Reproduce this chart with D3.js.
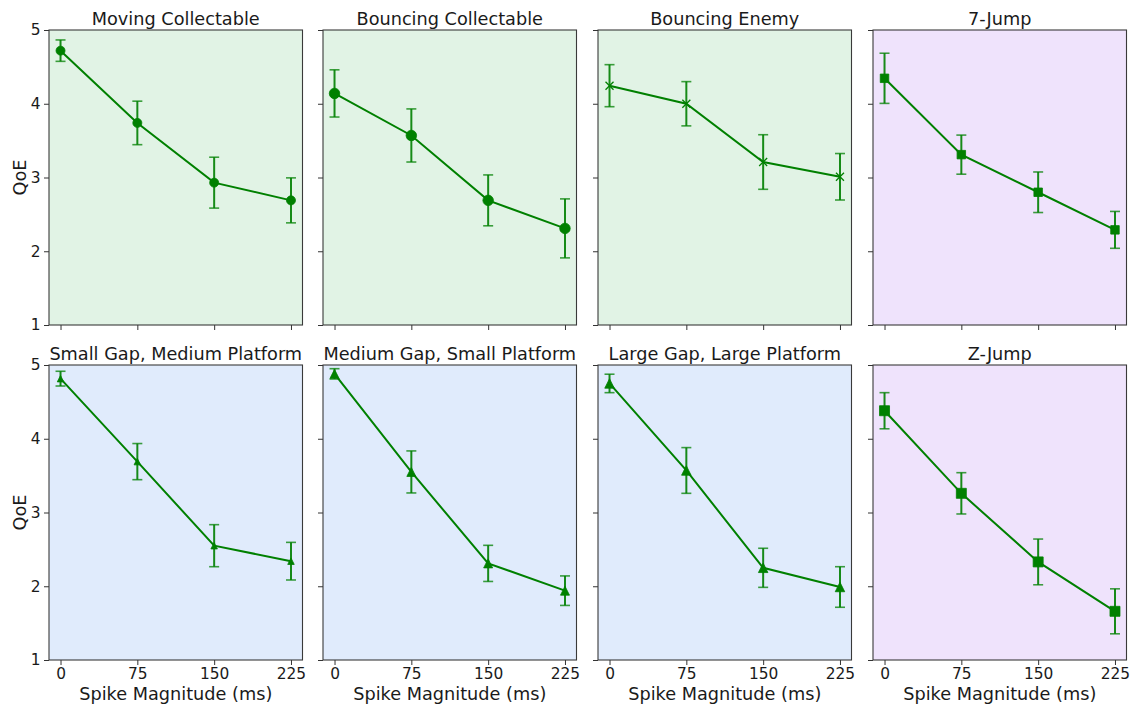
<!DOCTYPE html>
<html>
<head>
<meta charset="utf-8">
<script src="https://cdn.jsdelivr.net/npm/d3@7"></script>
<style>
  body { margin: 0; background: #fff; }
  svg text { font-family: "DejaVu Sans", sans-serif; fill: #1a1a1a; }
</style>
</head>
<body>
<svg id="chart" width="1132" height="707"></svg>
<script>
// Spike magnitudes (ms) shared by every panel
const spikeMs = [0, 75, 150, 225];
const xTickLabels = ["0", "75", "150", "225"];
const yTicks = [1, 2, 3, 4, 5];

// Panel titles, row by row
const titles = [
  "Moving Collectable", "Bouncing Collectable", "Bouncing Enemy", "7-Jump",
  "Small Gap, Medium Platform", "Medium Gap, Small Platform", "Large Gap, Large Platform", "Z-Jump"
];

// Mean QoE per spike magnitude, and error half-widths
const movingCollectable = [4.72, 3.74, 2.93, 2.69];
const movingCollectableErr = [0.145, 0.295, 0.345, 0.305];
const bouncingCollectable = [4.14, 3.57, 2.69, 2.31];
const bouncingCollectableErr = [0.32, 0.36, 0.345, 0.40];
const bouncingEnemy = [4.245, 4.00, 3.21, 3.01];
const bouncingEnemyErr = [0.285, 0.30, 0.37, 0.315];
const sevenJump = [4.345, 3.31, 2.80, 2.29];
const sevenJumpErr = [0.34, 0.265, 0.275, 0.25];
const smallGapMedPlat = [4.815, 3.69, 2.55, 2.34];
const smallGapMedPlatErr = [0.10, 0.245, 0.285, 0.255];
const medGapSmallPlat = [4.88, 3.55, 2.31, 1.94];
const medGapSmallPlatErr = [0.07, 0.285, 0.245, 0.20];
const largeGapLargePlat = [4.75, 3.57, 2.25, 1.99];
const largeGapLargePlatErr = [0.125, 0.31, 0.265, 0.275];
const zJump = [4.38, 3.26, 2.33, 1.66];
const zJumpErr = [0.245, 0.28, 0.31, 0.305];

const seriesMeans = [movingCollectable, bouncingCollectable, bouncingEnemy, sevenJump,
  smallGapMedPlat, medGapSmallPlat, largeGapLargePlat, zJump];
const seriesErrs = [movingCollectableErr, bouncingCollectableErr, bouncingEnemyErr, sevenJumpErr,
  smallGapMedPlatErr, medGapSmallPlatErr, largeGapLargePlatErr, zJumpErr];

// Marker shape and size (px) per panel
const markerShapes = ["circle", "circle", "x", "square", "triangle", "triangle", "triangle", "square"];
const markerSizes = [9, 10.5, 8, 8.5, 6.5, 9, 9.5, 10];

// Panel background per panel
const GREEN_BG = "#e1f3e5", BLUE_BG = "#e0ebfc", PURPLE_BG = "#efe3fc";
const backgrounds = [GREEN_BG, GREEN_BG, GREEN_BG, PURPLE_BG, BLUE_BG, BLUE_BG, BLUE_BG, PURPLE_BG];

const LINE_COLOR = "#008000";

// Grid geometry
const colLefts = [49, 323, 598, 873];
const rowTops = [30, 365];
const W = 253.5, H = 295;

const svg = d3.select("#chart");

const x = d3.scaleLinear().domain([-11.25, 236.25]).range([0, W]);
const y = d3.scaleLinear().domain([1, 5]).range([H, 0]);

function markerPath(shape, s) {
  const h = s / 2;
  if (shape === "circle") return d3.symbol(d3.symbolCircle, Math.PI * h * h)();
  if (shape === "square") return `M${-h},${-h}H${h}V${h}H${-h}Z`;
  if (shape === "triangle") return `M0,${-h}L${-h},${h}L${h},${h}Z`;
  return `M${-h},${-h}L${h},${h}M${-h},${h}L${h},${-h}`;
}

titles.forEach((title, i) => {
  const row = Math.floor(i / 4), col = i % 4;
  const g = svg.append("g").attr("transform", `translate(${colLefts[col]},${rowTops[row]})`);

  g.append("rect").attr("width", W).attr("height", H).attr("fill", backgrounds[i]);

  // Axes
  const yAxis = d3.axisLeft(y).tickValues(yTicks).tickSize(5).tickPadding(3.5)
    .tickFormat(col === 0 ? d3.format("d") : () => "");
  const xAxis = d3.axisBottom(x).tickValues(spikeMs).tickSize(5).tickPadding(3.5)
    .tickFormat(row === 1 ? (d, k) => xTickLabels[k] : () => "");

  const ya = g.append("g").call(yAxis);
  const xa = g.append("g").attr("transform", `translate(0,${H})`).call(xAxis);
  [ya, xa].forEach(a => {
    a.select(".domain").remove();
    a.selectAll(".tick line").attr("stroke", "#333").attr("stroke-width", 1);
    a.selectAll(".tick text").style("font-size", "15.4px").attr("fill", "#1a1a1a");
  });

  g.append("rect").attr("width", W).attr("height", H)
    .attr("fill", "none").attr("stroke", "#3a3a3a").attr("stroke-width", 1.1);

  const means = seriesMeans[i], errs = seriesErrs[i];
  const pts = spikeMs.map((v, k) => ({ x: v, m: means[k], e: errs[k] }));

  // Error bars
  const eb = g.append("g");
  eb.selectAll("line.v").data(pts).join("line")
    .attr("x1", d => x(d.x)).attr("x2", d => x(d.x))
    .attr("y1", d => y(d.m + d.e)).attr("y2", d => y(d.m - d.e))
    .attr("stroke", LINE_COLOR).attr("stroke-width", 2).attr("stroke-opacity", 0.9);
  ["top", "bot"].forEach(side => {
    eb.selectAll("line." + side).data(pts).join("line").attr("class", side)
      .attr("x1", d => x(d.x) - 5).attr("x2", d => x(d.x) + 5)
      .attr("y1", d => y(side === "top" ? d.m + d.e : d.m - d.e))
      .attr("y2", d => y(side === "top" ? d.m + d.e : d.m - d.e))
      .attr("stroke", LINE_COLOR).attr("stroke-width", 1.6).attr("stroke-opacity", 0.75);
  });

  // Connecting line
  g.append("path").datum(pts)
    .attr("d", d3.line().x(d => x(d.x)).y(d => y(d.m)))
    .attr("fill", "none").attr("stroke", LINE_COLOR).attr("stroke-width", 2);

  // Markers
  const shape = markerShapes[i];
  g.selectAll("path.mk").data(pts).join("path").attr("class", "mk")
    .attr("transform", d => `translate(${x(d.x)},${y(d.m)})`)
    .attr("d", markerPath(shape, markerSizes[i]))
    .attr("fill", shape === "x" ? "none" : LINE_COLOR)
    .attr("stroke", LINE_COLOR)
    .attr("stroke-width", shape === "x" ? 1.3 : 0.8);

  // Title
  g.append("text").attr("x", W / 2).attr("y", -5.5).attr("text-anchor", "middle")
    .style("font-size", "17.7px").text(title);

  if (row === 1) {
    g.append("text").attr("x", W / 2).attr("y", H + 39.5).attr("text-anchor", "middle")
      .style("font-size", "17.7px").text("Spike Magnitude (ms)");
  }
  if (col === 0) {
    g.append("text").attr("transform", `translate(${25.5 - colLefts[0]},${H / 2}) rotate(-90)`)
      .attr("text-anchor", "middle").style("font-size", "17.7px").text("QoE");
  }
});
</script>
</body>
</html>
